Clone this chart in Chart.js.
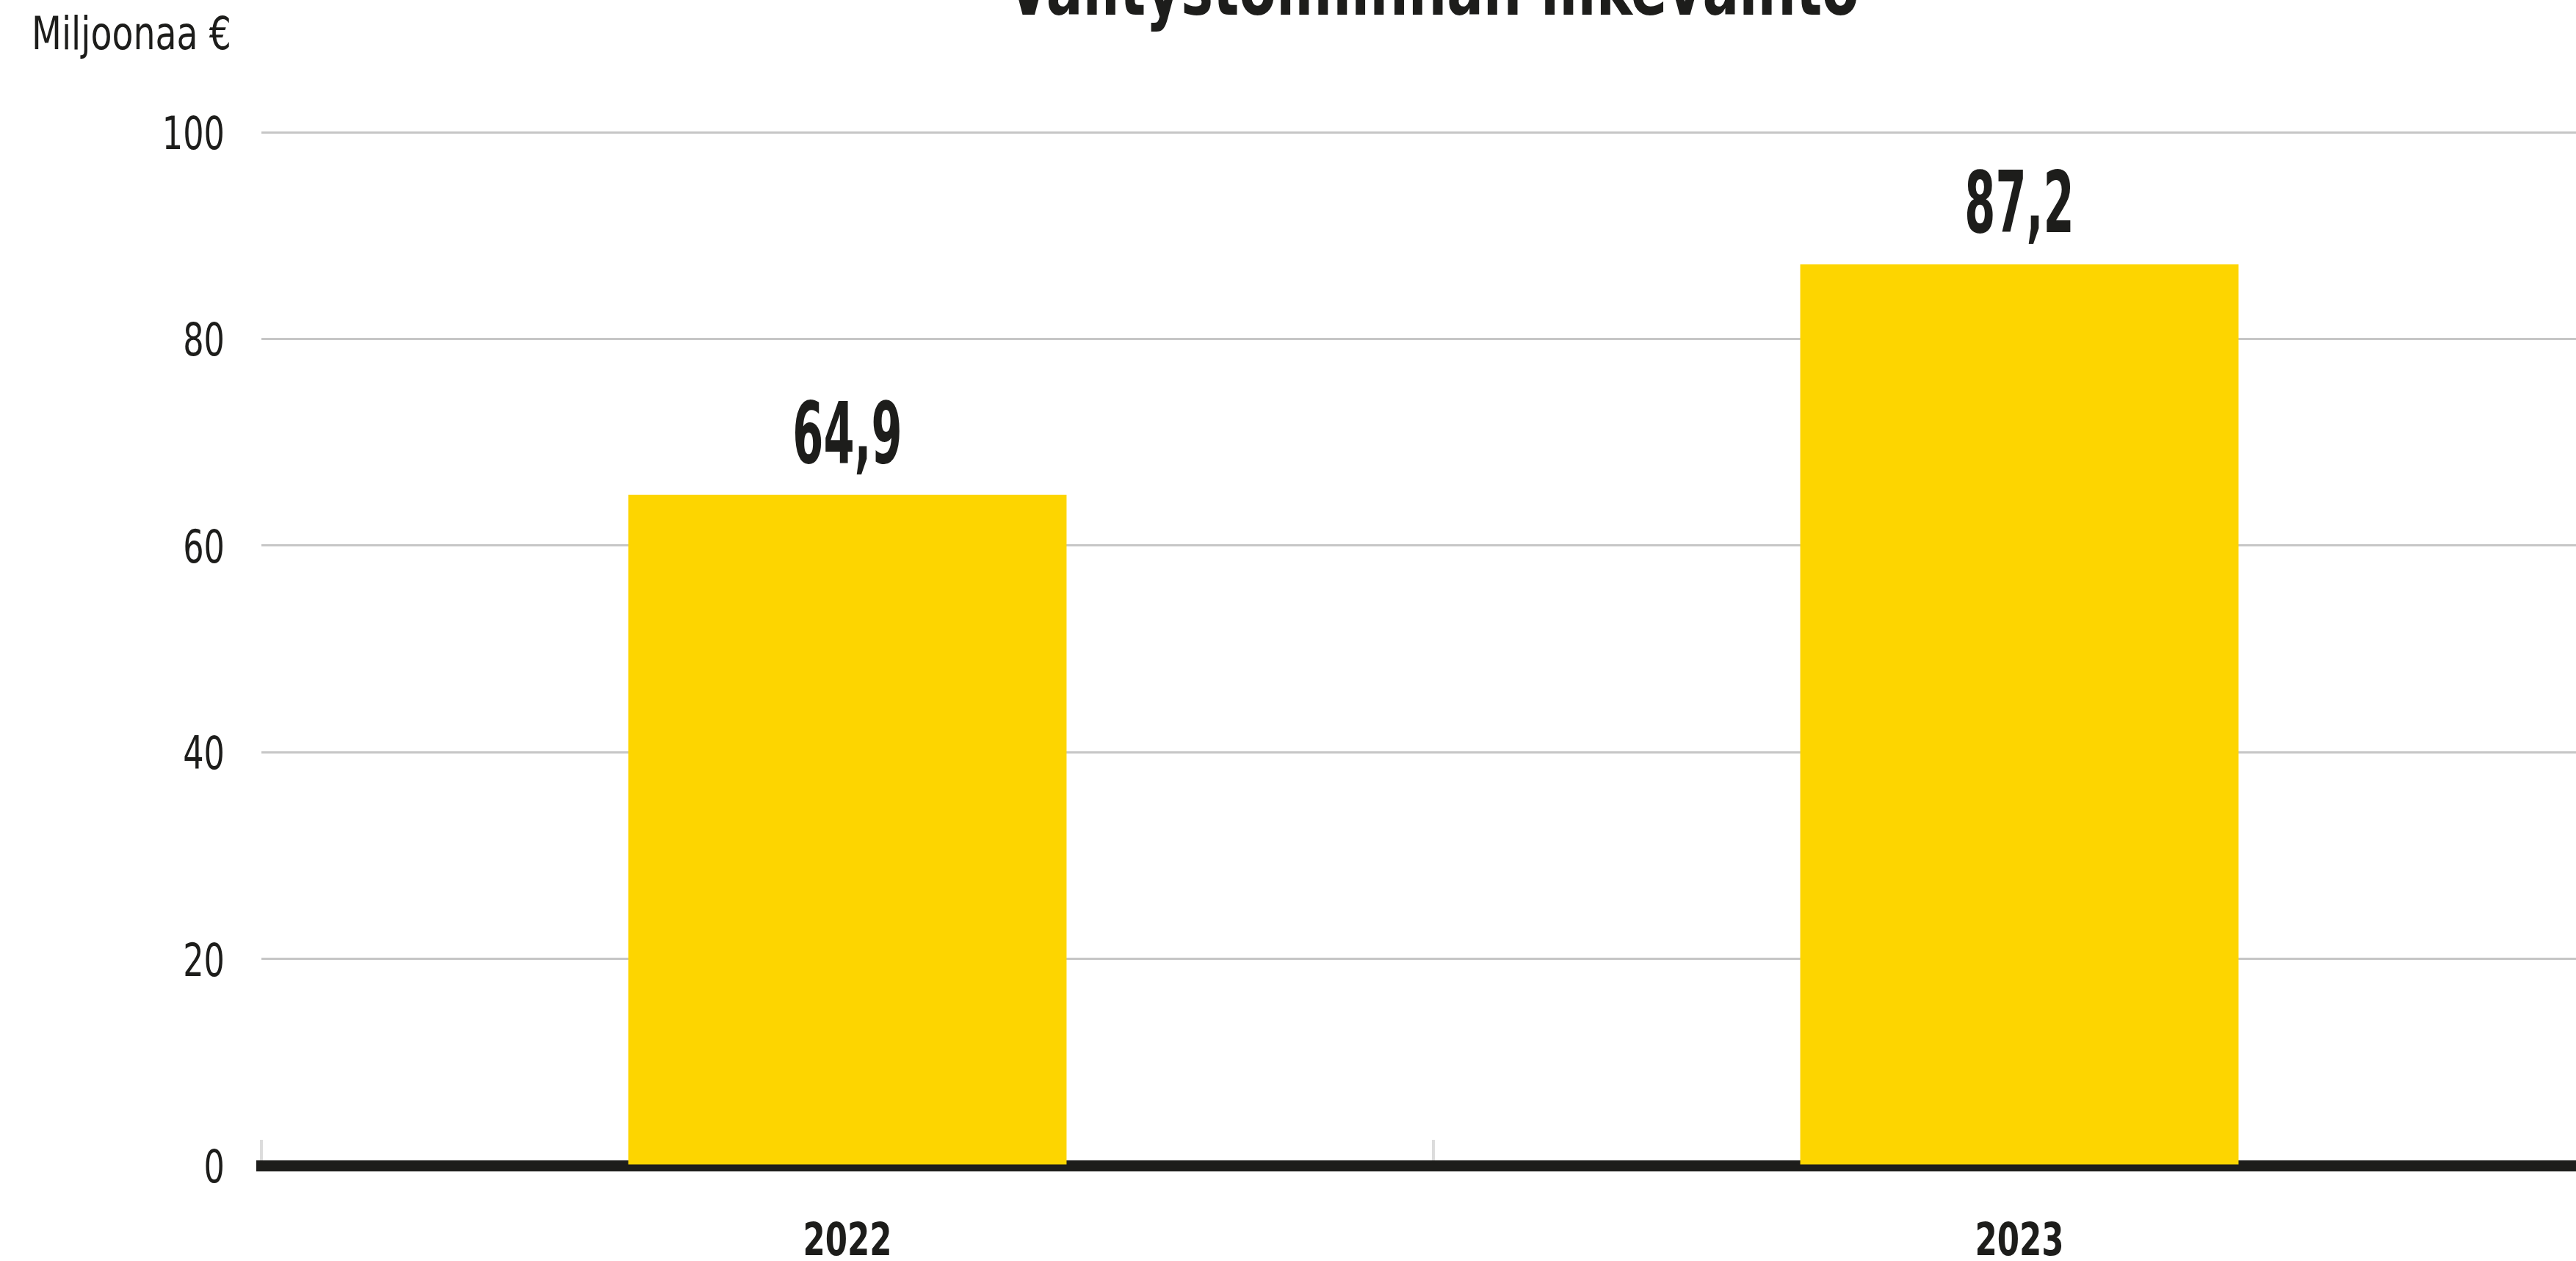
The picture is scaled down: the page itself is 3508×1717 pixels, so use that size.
<!DOCTYPE html>
<html>
<head>
<meta charset="utf-8">
<script src="https://cdn.jsdelivr.net/npm/chart.js@4"></script>
<style>
  html, body { margin: 0; padding: 0; background: #fff; overflow: hidden; }
  #wrap { width: 3548px; height: 1717px; position: relative; }
</style>
</head>
<body>
<div id="wrap"><canvas id="mychart"></canvas></div>
<script>
// ***** data *****
var title = "Välitystoiminnan liikevaihto";
var unitLabel = "Miljoonaa €";
var years = ["2022", "2023"];
var revenue = [64.9, 87.2];
var yTicks = [0, 20, 40, 60, 80, 100];

var ink = "#1d1d1b";
var yellow = "#fdd500";
var narrow = "'DejaVu Sans Condensed', 'Liberation Sans', sans-serif";

// the original uses a very narrow face, so text gets squeezed sideways
function squeezed(ctx, txt, x, y, font, align, sx) {
  ctx.save();
  ctx.font = font;
  ctx.textAlign = align;
  ctx.textBaseline = "alphabetic";
  ctx.translate(x, y);
  ctx.scale(sx, 1);
  ctx.fillText(txt, 0, 0);
  ctx.restore();
}

var textPlugin = {
  id: "texts",
  afterDraw: function(chart) {
    var ctx = chart.ctx;
    var area = chart.chartArea;
    var xs = chart.scales.x;
    var ys = chart.scales.y;
    ctx.save();
    ctx.fillStyle = ink;

    // title (mostly cut off above the picture)
    squeezed(ctx, title, (area.left + area.right) / 2, 20, "bold 105px " + narrow, "center", 0.78);

    // unit
    squeezed(ctx, unitLabel, 43, 67, "62px " + narrow, "left", 0.85);

    // y tick labels
    ys.ticks.forEach(function(t) {
      squeezed(ctx, String(t.value), area.left - 50, ys.getPixelForValue(t.value) + 23, "62px " + narrow, "right", 0.8);
    });

    // x tick labels
    years.forEach(function(lab, i) {
      squeezed(ctx, lab, xs.getPixelForTick(i), 1709, "bold 62px " + narrow, "center", 0.78);
    });

    // values over bars
    chart.getDatasetMeta(0).data.forEach(function(bar, i) {
      var txt = revenue[i].toFixed(1).replace(".", ",");
      squeezed(ctx, txt, bar.x, bar.y - 44, "bold 116px " + narrow, "center", 0.58);
    });
    ctx.restore();
  }
};

var context = document.getElementById("mychart").getContext("2d");
var chart = new Chart(context, {
  type: "bar",
  data: {
    labels: years,
    datasets: [{
      label: unitLabel,
      data: revenue,
      backgroundColor: yellow,
      borderWidth: 0,
      categoryPercentage: 1,
      barPercentage: 0.374
    }]
  },
  options: {
    responsive: true,
    maintainAspectRatio: false,
    animation: false,
    layout: { padding: { top: 180, left: 0, right: 0, bottom: 0 } },
    plugins: {
      legend: { display: false },
      title: { display: false },
      tooltip: { enabled: false }
    },
    scales: {
      x: {
        grid: {
          display: true,
          drawOnChartArea: false,
          drawTicks: true,
          tickLength: -35,
          color: "#dcdcdc",
          lineWidth: 4
        },
        border: { display: true, color: ink, width: 15 },
        ticks: { display: false },
        afterFit: function(scale) { scale.height = 130; }
      },
      y: {
        min: 0,
        max: 100,
        afterBuildTicks: function(scale) {
          scale.ticks = yTicks.map(function(v) { return { value: v }; });
        },
        grid: { color: "#c6c6c6", lineWidth: 3, drawTicks: false },
        border: { display: false },
        ticks: { display: false },
        afterFit: function(scale) { scale.width = 356; }
      }
    }
  },
  plugins: [textPlugin]
});
</script>
</body>
</html>
